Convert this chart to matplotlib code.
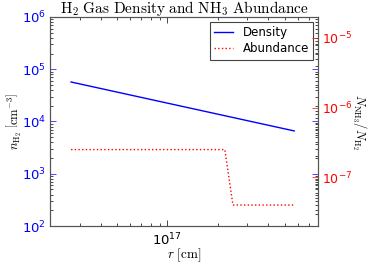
import matplotlib
matplotlib.use("Agg")
import matplotlib.pyplot as plt

plt.rcParams['mathtext.fontset'] = 'cm'
plt.rcParams['axes.unicode_minus'] = False
plt.rcParams['font.family'] = 'DejaVu Sans'

# Data
r_density = [2.67e16, 5.7e17]
n_density = [5.7e4, 6.6e3]

r_abund = [2.67e16, 2.2e17, 2.46e17, 5.7e17]
abund = [2.5e-7, 2.5e-7, 4.0e-8, 4.0e-8]

xlim = (2.0e16, 7.9e17)
ylim_left = (1e2, 1e6)
ylim_right = (2e-8, 2e-5)

fig = plt.figure(figsize=(3.71, 2.67), dpi=100)
ax1 = fig.add_axes([50/371, 41/267, 268/371, 209/267])
ax2 = ax1.twinx()

l1, = ax1.plot(r_density, n_density, 'b-', lw=1.0, label='Density')
l2, = ax2.plot(r_abund, abund, 'r:', lw=1.0, label='Abundance')

ax1.set_xscale('log')
ax1.set_yscale('log')
ax2.set_yscale('log')
ax1.set_xlim(*xlim)
ax1.set_ylim(*ylim_left)
ax2.set_ylim(*ylim_right)

ax1.tick_params(which='both', direction='in', top=True, right=True)
ax1.tick_params(which='major', length=4, width=0.5)
ax1.tick_params(which='minor', length=2, width=0.5)
ax1.tick_params(axis='y', which='major', colors='b', labelsize=9.5, pad=3)
ax1.tick_params(axis='x', labelsize=9.5, pad=4)
ax2.tick_params(which='both', direction='in')
ax2.tick_params(which='major', length=4, width=0.5, colors='r', labelsize=9, pad=3)
ax2.tick_params(which='minor', length=2, width=0.5)

for sp in ax1.spines.values():
    sp.set_color('#555555')
for sp in ax2.spines.values():
    sp.set_color('#555555')

ax1.text(0.5, 1.0 + 4/209, r'$\mathrm{H_2\ Gas\ Density\ and\ NH_3\ Abundance}$',
         transform=ax1.transAxes, ha='center', va='baseline', fontsize=11)
ax1.set_xlabel(r'$r\ [\mathrm{cm}]$', fontsize=9.5)
ax1.xaxis.set_label_coords(0.5, -29/209)
ax1.xaxis.label.set_va('center')
ax1.set_ylabel(r'$n_{\mathrm{H_2}}\ \left[\mathrm{cm}^{-3}\right]$', fontsize=9)
ax1.yaxis.set_label_coords(-36/268, 0.5)
ax1.yaxis.label.set_va('center')
ax2.set_ylabel(r'$N_{\mathrm{NH_3}}/N_{\mathrm{H_2}}$', fontsize=9, rotation=270)
ax2.yaxis.set_label_coords(1 + 41/268, 0.5)
ax2.yaxis.label.set_va('center')

leg = ax1.legend([l1, l2], ['Density', 'Abundance'], loc='upper right', fontsize=8.5,
                 fancybox=False, framealpha=1, edgecolor='#444444', handlelength=1.6,
                 borderaxespad=0.4, borderpad=0.35, labelspacing=0.3, handletextpad=0.8)
leg.get_frame().set_linewidth(0.8)

fig.savefig('out.png', dpi=100)
